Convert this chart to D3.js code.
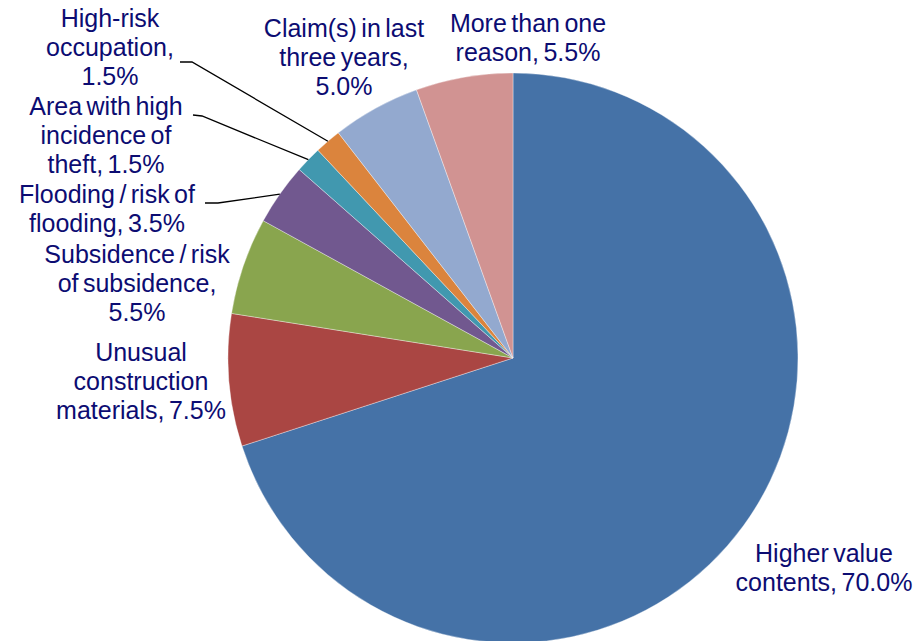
<!DOCTYPE html>
<html>
<head>
<meta charset="utf-8">
<script src="https://cdn.jsdelivr.net/npm/d3@7"></script>
<style>
  html, body { margin: 0; padding: 0; background: #fff; }
  svg text { font-family: "Liberation Sans", Arial, sans-serif; fill: #0c0c72; }
</style>
</head>
<body>
<svg id="chart" width="918" height="641"></svg>
<script>
// reasons, in clockwise order from 12 o'clock
var categories = [
  'Higher value contents',
  'Unusual construction materials',
  'Subsidence / risk of subsidence',
  'Flooding / risk of flooding',
  'Area with high incidence of theft',
  'High-risk occupation',
  'Claim(s) in last three years',
  'More than one reason'
];
var values = [70.0, 7.5, 5.5, 3.5, 1.5, 1.5, 5.0, 5.5];
var colors = ['#4572a7', '#aa4643', '#89a54e', '#71588f', '#4198af', '#db843d', '#93a9cf', '#d19392'];

// label text lines (value appended on the last line)
var labelLines = [
  ['Higher value', 'contents, '],
  ['Unusual', 'construction', 'materials, '],
  ['Subsidence / risk', 'of subsidence,', ''],
  ['Flooding / risk of', 'flooding, '],
  ['Area with high', 'incidence of', 'theft, '],
  ['High-risk', 'occupation,', ''],
  ['Claim(s) in last', 'three years,', ''],
  ['More than one', 'reason, ']
];

// label placement: centre x, first baseline y, and leader start (null = none)
var labelLayout = [
  {x: 824, y: 562, lead: null},
  {x: 141, y: 361, lead: null},
  {x: 137, y: 263, lead: null},
  {x: 107, y: 203, lead: [[218, 203], [205, 203]]},
  {x: 106, y: 115, lead: [[202, 116], [193, 115]]},
  {x: 110, y: 27, lead: [[192, 62], [180, 62]]},
  {x: 344, y: 37, lead: null},
  {x: 528, y: 32, lead: null}
];

var svg = d3.select('#chart');
var cx = 513, cy = 358, r = 285, lineH = 29;

var pie = d3.pie().sort(null).value(function(d) { return d; });
var arcs = pie(values);
var arc = d3.arc().innerRadius(0).outerRadius(r);

var g = svg.append('g').attr('transform', 'translate(' + cx + ',' + cy + ')');

g.selectAll('path.slice')
  .data(arcs)
  .enter().append('path')
  .attr('class', 'slice')
  .attr('d', arc)
  .attr('fill', function(d, i) { return colors[i]; })
  .attr('stroke', '#ffffff')
  .attr('stroke-opacity', 0.6)
  .attr('stroke-width', 0.6);

// leader lines end on the rim at the slice mid-angle
arcs.forEach(function(d, i) {
  var lay = labelLayout[i];
  if (!lay.lead) return;
  var mid = (d.startAngle + d.endAngle) / 2;
  var end = [cx + r * Math.sin(mid), cy - r * Math.cos(mid)];
  var pts = [lay.lead[1], lay.lead[0], end];
  svg.append('path')
    .attr('d', d3.line()(pts))
    .attr('fill', 'none')
    .attr('stroke', '#000')
    .attr('stroke-width', 1.3);
});

var fmt = d3.format('.1f');
labelLines.forEach(function(lines, i) {
  var lay = labelLayout[i];
  var txt = lines.slice();
  txt[txt.length - 1] = txt[txt.length - 1] + fmt(values[i]) + '%';
  var t = svg.append('text')
    .attr('text-anchor', 'middle')
    .style('font-size', '25px')
    .style('word-spacing', '-2.5px')
    .attr('data-category', categories[i]);
  txt.forEach(function(s, j) {
    t.append('tspan')
      .attr('x', lay.x)
      .attr('y', lay.y + j * lineH)
      .text(s);
  });
});
</script>
</body>
</html>
